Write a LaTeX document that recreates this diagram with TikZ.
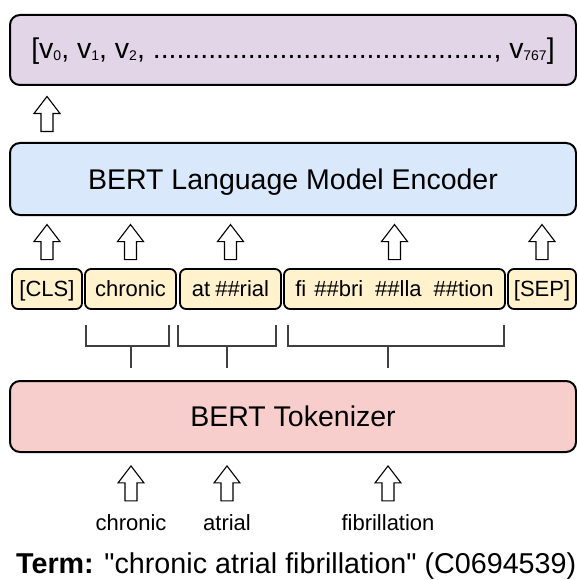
\documentclass[tikz,border=0pt]{standalone}
\usepackage{fontspec}
\setmainfont{Liberation Sans}
\newfontfamily\plainsans{Liberation Sans}
\usetikzlibrary{calc}
\definecolor{cpurple}{HTML}{E1D5E7}
\definecolor{cblue}{HTML}{DAE8FC}
\definecolor{cyellow}{HTML}{FFF2CC}
\definecolor{cred}{HTML}{F8CECC}
\definecolor{cbrack}{HTML}{404040}
\newcommand\vsb[1]{\raisebox{-1.5pt}{\fontsize{14}{14}\selectfont #1}}
\begin{document}
\begin{tikzpicture}[x=1pt,y=-1pt,
  bigbox/.style={draw=black, line width=2pt, rounded corners=10pt, minimum width=566pt, inner sep=0pt, font=\fontsize{28.5}{28.5}\selectfont},
  tokbox/.style={draw=black, line width=1.8pt, rounded corners=6pt, minimum height=40pt, inner sep=0pt, fill=cyellow, text height=14pt, text depth=0pt, font=\fontsize{22}{22}\selectfont},
  lbl/.style={font=\fontsize{22}{22}\selectfont, inner sep=0pt, anchor=base},
  brack/.style={draw=cbrack, line width=1.5pt},
  barrow/.pic={\draw[line width=1.1pt, fill=white, line join=miter] (0,-17.5) -- (13,-0.5) -- (6,-0.5) -- (6,17.5) -- (-6,17.5) -- (-6,-0.5) -- (-13,-0.5) -- cycle;}
]
\useasboundingbox (0,0) rectangle (577,580);

% main boxes
\node[bigbox, fill=cpurple, minimum height=70pt, text height=18pt, text depth=0pt] (vec) at (293,50)
  {[v\vsb{0}, v\vsb{1}, v\vsb{2}, ...........................................,\ v\vsb{767}]};
\node[bigbox, fill=cblue, minimum height=72pt, text height=20pt, text depth=0pt] (enc) at (293,179)
  {BERT Language Model Encoder};
\node[bigbox, fill=cred, minimum height=71pt, text height=20pt, text depth=0pt] (tok) at (293,416.5)
  {BERT Tokenizer};

% tokens
\node[tokbox, minimum width=70pt] (t1) at (47,289) {[CLS]};
\node[tokbox, minimum width=91pt] (t2) at (130.5,289) {chronic};
\node[tokbox, minimum width=101pt] (t3) at (230.5,289) {at\hspace{5pt}\#\#rial};
\node[tokbox, minimum width=221pt] (t4) at (394.5,289) {fi\hspace{8pt}\#\#bri\hspace{12pt}\#\#lla\hspace{12pt}\#\#tion};
\node[tokbox, minimum width=68pt] (t5) at (542,289) {[SEP]};

% input words
\node[lbl] (w1) at (131,530) {chronic};
\node[lbl] (w2) at (227,530) {atrial};
\node[lbl] (w3) at (388,530) {fibrillation};

% term
\node[anchor=base west, inner sep=0pt, font=\fontsize{28.7}{28.7}\selectfont] (term) at (16,573)
  {\textbf{Term:} {\plainsans "}chronic atrial fibrillation{\plainsans "} (C0694539)};

% block arrows
\pic at ($(t1.center |- vec.south)!0.5!(t1.center |- enc.north)$) {barrow};
\foreach \t in {t1,t2,t3,t4,t5}{
  \pic at ($(\t.north)!0.5!(\t.north |- enc.south)$) {barrow};
}
\foreach \w in {w1,w2,w3}{
  \pic at ($(\w.north)!0.5!(\w.north |- tok.south)$) {barrow};
}

% brackets
\draw[brack] (86,325) -- (86,346) -- (169,346) -- (169,325);
\draw[brack] (w1.center |- 0,346) -- (w1.center |- 0,368);
\draw[brack] (178,325) -- (178,346) -- (276,346) -- (276,325);
\draw[brack] (w2.center |- 0,346) -- (w2.center |- 0,368);
\draw[brack] (288,325) -- (288,346) -- (504,346) -- (504,325);
\draw[brack] (w3.center |- 0,346) -- (w3.center |- 0,368);
\end{tikzpicture}
\end{document}
